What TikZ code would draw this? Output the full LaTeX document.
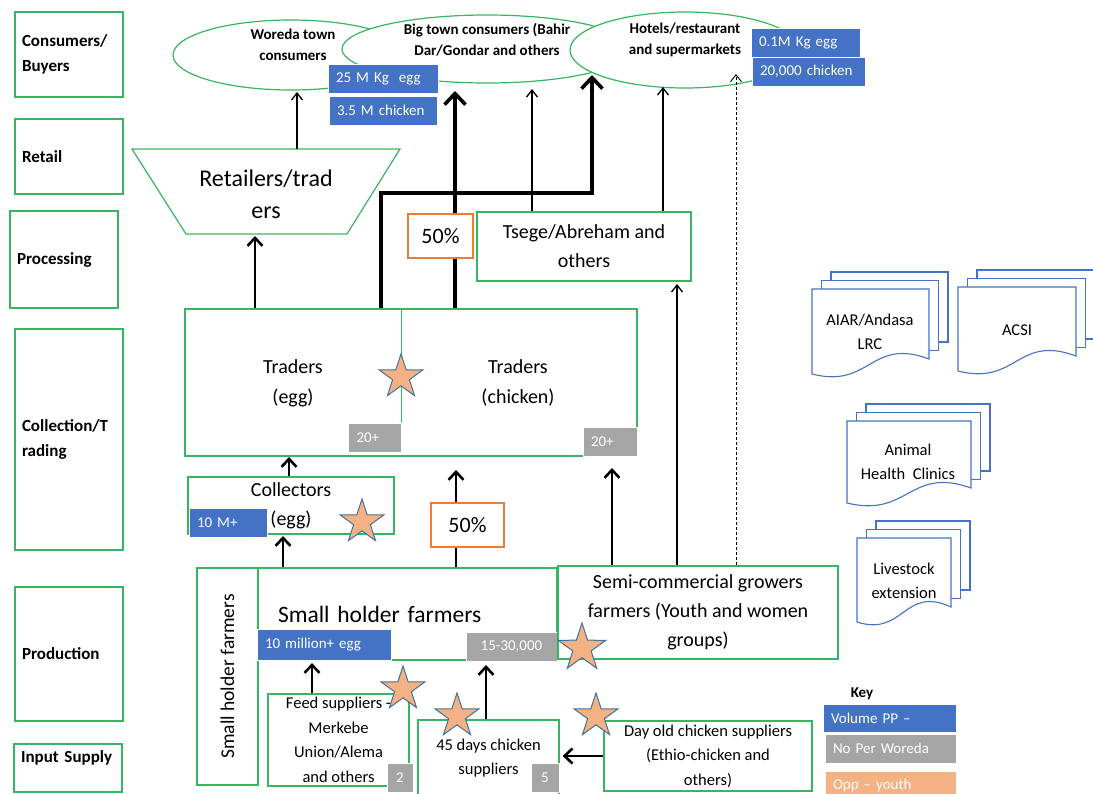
\documentclass[tikz,border=0pt]{standalone}
\usepackage{fontspec}
\setmainfont{Carlito}
\usepackage{tikz}
\usetikzlibrary{arrows.meta,shapes.geometric}

\definecolor{grn}{RGB}{56,181,96}
\definecolor{blu}{RGB}{68,114,196}
\definecolor{gry}{RGB}{165,165,165}
\definecolor{org}{RGB}{237,125,49}
\definecolor{peach}{RGB}{244,177,131}
\definecolor{starline}{RGB}{65,113,156}

\newcommand{\docpile}[4]{%
	\draw[page] ({#1+19},{#2-17}) rectangle ({#1+#3+19},{#2+#4-17});
	\draw[page] ({#1+9.5},{#2-8.5}) rectangle ({#1+#3+9.5},{#2+#4-8.5});
	\draw[page] (#1,#2) -- ({#1+#3},#2) -- ({#1+#3},{#2+#4}) .. controls ({#1+0.5*#3},{#2+#4-22}) and ({#1+0.5*#3},{#2+#4+30}) .. (#1,{#2+#4+15}) -- cycle;
}

\begin{document}
\begin{tikzpicture}[x=1pt,y=-1pt,
		stage/.style={draw=grn,line width=1.2pt,fill=white,align=left,inner xsep=7pt,text width=94pt,minimum height=#1,font=\bfseries\fontsize{17}{25}\selectfont},
		market/.style={ellipse,draw=grn,line width=1.2pt,fill=white,inner sep=0pt},
		mtext/.style={align=center,font=\bfseries\fontsize{15}{21}\selectfont},
		box/.style={draw=grn,line width=1.2pt,fill=white,align=center,font=\fontsize{20}{29}\selectfont},
		supply/.style={box,inner sep=1pt,font=\fontsize{16.5}{24.5}\selectfont},
		pct/.style={draw=org,line width=1.2pt,fill=white,font=\fontsize{22}{26}\selectfont},
		vol/.style={fill=blu,draw=white,line width=0.6pt,text=white,align=left,inner xsep=8pt,minimum height=29pt,font=\fontsize{15}{18}\selectfont},
		num/.style={vol,fill=gry},
		opp/.style={star,star points=5,star point ratio=2.6,fill=peach,draw=starline,line width=1pt,minimum size=46pt,inner sep=0pt},
		flow/.style={line width=2.6pt,-{Straight Barb[length=8pt,width=15pt]}},
		bigflow/.style={line width=3.6pt,-{Straight Barb[length=11pt,width=21pt]}},
		trunk/.style={line width=3.6pt},
		link/.style={line width=1.3pt,-{Straight Barb[length=7pt,width=11pt]}},
		dashlink/.style={link,line width=0.9pt,dash pattern=on 3pt off 2pt},
		page/.style={draw=blu,line width=1.1pt,fill=white}]

	\useasboundingbox (0,0) rectangle (1093,793);

	\node[stage=85] (consumers) at (69,54.5) {Consumers/\\Buyers};
	\node[stage=75] (retailstage) at (69,156.5) {Retail};
	\node[stage=97] (processing) at (64,259.5) {Processing};
	\node[stage=221] (collection) at (69,439.5) {Collection/T\\rading};
	\node[stage=134] (production) at (69,654) {Production};
	\node[stage=48,text depth=22pt] (input) at (68,768) {Input Supply};

	\node[market,minimum width=236,minimum height=70] (woreda) at (291,55) {};
	\node[market,minimum width=290,minimum height=68] (bigtown) at (487,49) {};
	\node[market,minimum width=230,minimum height=76] (hotels) at (685,50) {};
	\node[mtext] (woredatext) at (293,45) {Woreda town\\consumers};
	\node[mtext] (bigtowntext) at (487,40) {Big town consumers (Bahir\\Dar/Gondar and others};
	\node[mtext] (hotelstext) at (685,40) {Hotels/restaurant\\and supermarkets};

	\node[vol,text width=94pt] (eggbig) at (383,78.5) {25 M Kg\ \ egg};
	\node[vol,text width=92pt] (chickbig) at (383,110.5) {3.5 M chicken};
	\node[vol,text width=93pt] (eggsmall) at (805.5,42.5) {0.1M Kg egg};
	\node[vol,text width=97pt] (chicksmall) at (808.5,71.5) {20,000 chicken};

	\coordinate (retailtop) at (266,149);
	\draw[grn,line width=1.2pt,fill=white] (132,149) -- (400,149) -- (347,234) -- (186,234) -- cycle;
	\node[align=center,font=\fontsize{24}{32}\selectfont] (retail) at (266,194) {Retailers/trad\\ers};

	\node[pct,minimum width=65,minimum height=44] (pcttop) at (440.5,236) {50\%};
	\node[box,minimum width=214,minimum height=69] (tsege) at (584,246.5) {Tsege/Abreham and\\others};

	\node[draw=grn,line width=1.2pt,minimum width=452,minimum height=147] (traders) at (411,382.5) {};
	\node[num,text width=37pt] (tradeegg) at (375,438) {20+};
	\node[num,text width=38pt] (tradechick) at (610,441.5) {20+};
	\draw[grn,line width=1.2pt] (traders.north -| tradeegg.east) -- (tradeegg.north east);
	\node[align=center,font=\fontsize{20}{30}\selectfont] (eggtraders) at (293,383) {Traders\\(egg)};
	\node[align=center,font=\fontsize{20}{30}\selectfont] (chicktraders) at (518,383) {Traders\\(chicken)};

	\node[box,minimum width=206,minimum height=57] (collectors) at (291,505.5) {Collectors\\(egg)};
	\node[vol,text width=62pt] (collvol) at (228,522.5) {10 M+};
	\node[pct,minimum width=73,minimum height=44] (pctlow) at (467.5,525) {50\%};

	\node[draw=grn,line width=1.2pt,fill=white,rotate=90,minimum width=217,minimum height=61,font=\fontsize{19.5}{22}\selectfont] (shfside) at (227.5,676.5) {Small holder farmers};
	\node[draw=grn,line width=1.2pt,fill=white,align=left,text width=259pt,inner xsep=20pt,minimum height=92,font=\fontsize{23.5}{28}\selectfont] (smallholder) at (407.5,614) {Small holder farmers};
	\node[vol,text width=118pt,minimum height=31pt] (shvol) at (324,644.5) {10 million+ egg};
	\node[num,align=center,text width=75pt] (shnum) at (511.5,647) {15-30,000};
	\node[box,minimum width=280,minimum height=93] (semi) at (698,612.5) {Semi-commercial growers\\farmers (Youth and women\\groups)};

	\node[supply,minimum width=141,minimum height=92] (feed) at (338.5,740) {Feed suppliers -\\Merkebe\\Union/Alema\\and others};
	\node[num,align=center,text width=10pt] (feednum) at (400,778) {2};
	\node[supply,minimum width=141,minimum height=76] (days45) at (488.5,758) {45 days chicken\\suppliers};
	\node[num,align=center,text width=12pt] (daysnum) at (545,778) {5};
	\node[supply,minimum width=208,minimum height=70] (dayold) at (708,756) {Day old chicken suppliers\\(Ethio-chicken and\\others)};

	\node[font=\bfseries\fontsize{15}{18}\selectfont] (key) at (862,694) {Key};
	\node[vol,text width=117pt,minimum height=28pt] (keyvol) at (889.5,718) {Volume PP –};
	\node[num,text width=115pt] (keynum) at (890.5,748.5) {No Per Woreda};
	\node[vol,fill=peach,text width=115pt] (keyopp) at (890.5,785.5) {Opp – youth};

	\docpile{812}{289}{117}{70}
	\node[align=center,font=\fontsize{16.5}{24}\selectfont] (aiar) at (870,332) {AIAR/Andasa\\LRC};
	\docpile{958}{287}{118}{69}
	\node[font=\fontsize{16.5}{24}\selectfont] (acsi) at (1017,330) {ACSI};
	\docpile{847}{421}{124}{67}
	\node[align=center,font=\fontsize{16.5}{24}\selectfont] (animal) at (908,462) {Animal\\Health\ \ Clinics};
	\docpile{857}{538}{94}{69}
	\node[align=center,font=\fontsize{16.5}{24}\selectfont] (livestock) at (904,580.5) {Livestock\\extension};

	\coordinate (toWoreda) at (297,92);
	\coordinate (toRetail) at (255,236);
	\coordinate (toBigtown) at (455,91);
	\coordinate (bend) at (381,193);
	\coordinate (toHotels) at (592,75);
	\coordinate (tsegeBig) at (532,89);
	\coordinate (tsegeHotel) at (663,87);
	\coordinate (toTsege) at (677,284);
	\coordinate (semiHotel) at (736,74);
	\coordinate (toTraders) at (289,457);
	\coordinate (toCollectors) at (283,536);
	\coordinate (viaPct) at (456,470);
	\coordinate (semiTraders) at (612,468);
	\coordinate (feedUp) at (312,663);
	\coordinate (daysUp) at (486,665);

	\draw[link] (retailtop -| toWoreda) -- (toWoreda);
	\draw[flow] (traders.north -| toRetail) -- (toRetail);
	\draw[trunk] (traders.north -| toBigtown) -- (pcttop.south -| toBigtown);
	\draw[bigflow] (pcttop.north -| toBigtown) -- (toBigtown);
	\draw[bigflow] (traders.north -| bend) -- (bend) -| (toHotels);
	\draw[link] (tsege.north -| tsegeBig) -- (tsegeBig);
	\draw[link] (tsege.north -| tsegeHotel) -- (tsegeHotel);
	\draw[link] (semi.north -| toTsege) -- (toTsege);
	\draw[dashlink] (semi.north -| semiHotel) -- (semiHotel);
	\draw[flow] (collectors.north -| toTraders) -- (toTraders);
	\draw[flow] (smallholder.north -| toCollectors) -- (toCollectors);
	\draw[line width=2.6pt] (smallholder.north -| viaPct) -- (pctlow.south -| viaPct);
	\draw[flow] (pctlow.north -| viaPct) -- (viaPct);
	\draw[flow] (semi.north -| semiTraders) -- (semiTraders);
	\draw[flow] (feed.north -| feedUp) -- (feedUp);
	\draw[flow] (days45.north -| daysUp) -- (daysUp);
	\draw[flow,shorten >=3pt] (dayold.west) -- (days45.east |- dayold.west);

	\node[opp] (startraders) at (401,377) {};
	\node[opp] (starcoll) at (362,522) {};
	\node[opp,minimum size=50pt] (starsh) at (582,648) {};
	\node[opp] (starfeed) at (403,689) {};
	\node[opp] (stardays) at (457,716) {};
	\node[opp] (stardayold) at (596,716) {};

\end{tikzpicture}
\end{document}
